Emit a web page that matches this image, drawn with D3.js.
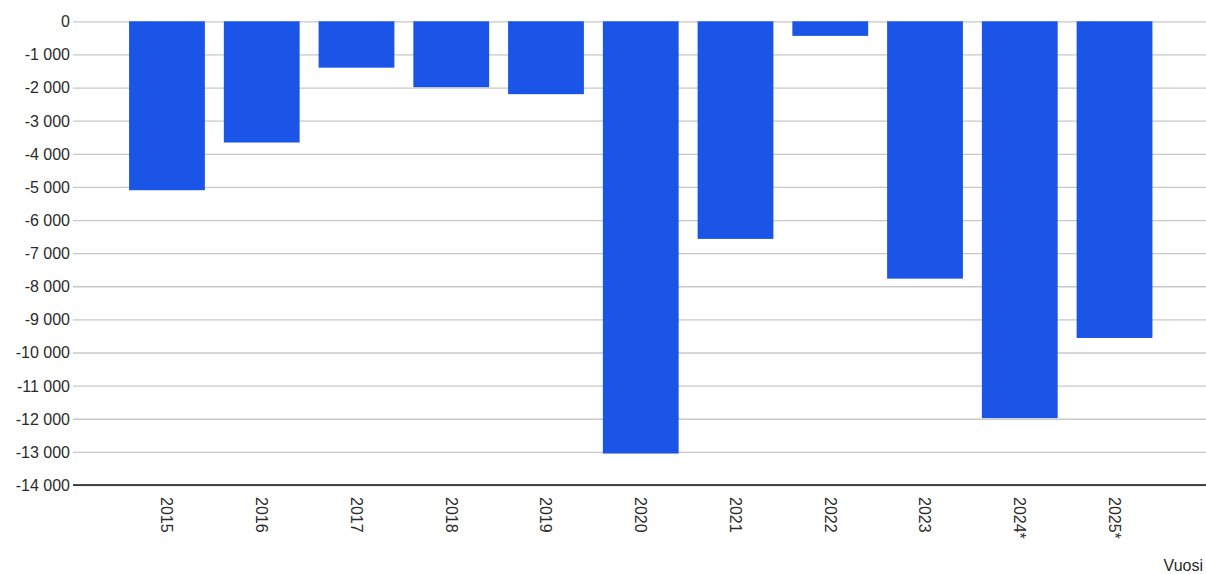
<!DOCTYPE html>
<html lang="fi">
<head>
<meta charset="UTF-8">
<title>Vuosi</title>
<script src="https://d3js.org/d3.v7.min.js"></script>
<style>
    html, body { margin: 0; padding: 0; background: #fff; overflow: hidden; }
    svg text { font-family: Arial, "Liberation Sans", sans-serif; fill: #2a2a2a; }
    .grid line { stroke: #c8c8c8; stroke-width: 1.3px; }
</style>
</head>
<body>
<svg id="chart" width="1206" height="574"></svg>
<script>
    // data
    const years = ["2015", "2016", "2017", "2018", "2019", "2020", "2021", "2022", "2023", "2024*", "2025*"];
    const values = [-5100, -3660, -1400, -1990, -2200, -13050, -6570, -440, -7770, -11980, -9560];
    const yTicks = d3.range(0, -14001, -1000);

    const width = 1206, height = 574;
    const plotLeft = 73, plotTop = 21.3, plotBottom = 485;
    const svg = d3.select("#chart");

    const x = d3.scaleBand().domain(years).range([119.6, 1161.9])
        .paddingInner(0.2).paddingOuter(0.1);
    const y = d3.scaleLinear().domain([0, -14000]).range([plotTop, plotBottom]);

    const fmt = v => d3.format(",")(v).replace(/,/g, " ").replace("−", "-");

    // gridlines + y labels
    const yAxis = svg.append("g")
        .attr("class", "grid")
        .attr("transform", `translate(${plotLeft},0)`)
        .call(d3.axisLeft(y).tickValues(yTicks).tickSize(-(width - plotLeft)).tickFormat(fmt));
    yAxis.select(".domain").remove();
    yAxis.selectAll("text")
        .attr("x", -3)
        .attr("dy", "0.34em")
        .style("font-size", "16px");

    // bars
    svg.append("g").selectAll("rect")
        .data(values)
        .join("rect")
        .attr("x", (d, i) => x(years[i]))
        .attr("width", x.bandwidth())
        .attr("y", y(0))
        .attr("height", d => y(d) - y(0))
        .attr("fill", "#1a55e8");

    // baseline at bottom
    svg.append("line")
        .attr("x1", plotLeft).attr("x2", width)
        .attr("y1", y(-14000)).attr("y2", y(-14000))
        .attr("stroke", "#111").attr("stroke-width", 1.6);

    // rotated year labels
    svg.append("g").selectAll("text")
        .data(years)
        .join("text")
        .attr("transform", d => `translate(${x(d) + x.bandwidth() / 2},497) rotate(90)`)
        .attr("dy", "0.35em")
        .style("font-size", "16px")
        .text(d => d);

    // axis title, kept just inside the right edge
    svg.append("text")
        .attr("x", 1203)
        .attr("y", 571)
        .attr("text-anchor", "end")
        .style("font-size", "16px")
        .text("Vuosi");
</script>
</body>
</html>
